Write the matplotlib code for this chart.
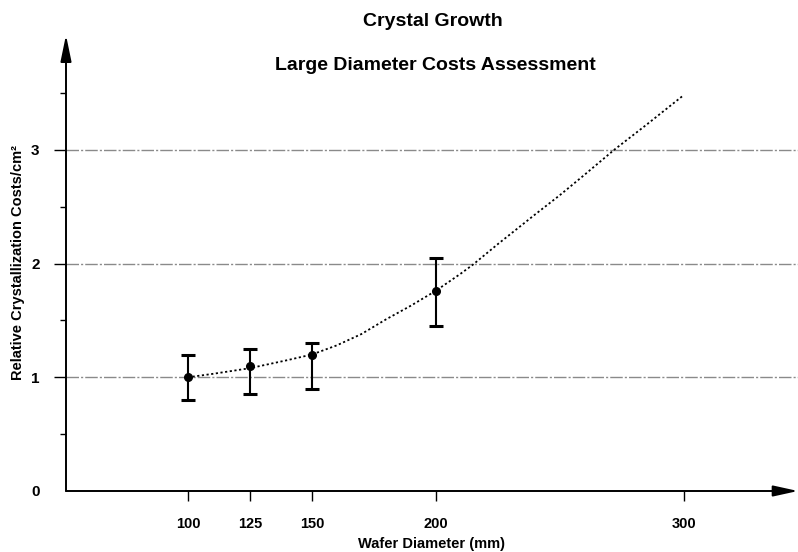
"""
Crystal growth: relative crystallization cost per cm^2 versus wafer diameter.
Writes out.png (798x552).
"""

import matplotlib

matplotlib.use("Agg")
import matplotlib.pyplot as plt
from matplotlib.ticker import FixedLocator

FONT = ["Liberation Sans Narrow", "Liberation Sans", "DejaVu Sans"]

# measured points with error bars
diam_mm = [100, 125, 150, 200]
cost_rel = [1.00, 1.10, 1.20, 1.76]
err_low = [0.80, 0.85, 0.90, 1.45]
err_high = [1.20, 1.25, 1.30, 2.05]

# projected trend
trend_x = [100, 110, 125, 140, 150, 160, 170, 180, 190, 200, 210, 215, 225,
           240, 250, 260, 272, 285, 300]
trend_y = [1.00, 1.03, 1.08, 1.15, 1.20, 1.28, 1.38, 1.51, 1.63, 1.76, 1.91,
           1.99, 2.17, 2.43, 2.60, 2.78, 3.00, 3.22, 3.48]

x_ticks = [100, 125, 150, 200, 300]
y_ticks = [0, 1, 2, 3]
y_minor = [0.5, 1.5, 2.5, 3.5]
grid_levels = [1, 2, 3]


def main() -> None:
    plt.rcParams["font.family"] = FONT
    fig = plt.figure(figsize=(7.98, 5.52), dpi=100)
    ax = fig.add_axes([66 / 798, 1 - 491 / 552, 1 - 66 / 798, (491 - 35) / 552])
    ax.set_xlim(50.8, 346.2)
    ax.set_ylim(0, 4.01)

    for s in ("top", "right", "left", "bottom"):
        ax.spines[s].set_visible(False)

    # axes drawn as arrows
    ax.annotate("", xy=(1.0, 0), xytext=(0, 0), xycoords="axes fraction",
                arrowprops=dict(arrowstyle="-|>,head_length=1.5,head_width=0.33",
                                color="black", lw=1.4, shrinkA=0, shrinkB=0),
                annotation_clip=False)
    ax.annotate("", xy=(0, 1.0), xytext=(0, 0), xycoords="axes fraction",
                arrowprops=dict(arrowstyle="-|>,head_length=1.6,head_width=0.33",
                                color="black", lw=1.4, shrinkA=0, shrinkB=0),
                annotation_clip=False)

    for lvl in grid_levels:
        ax.axhline(lvl, color="#8a8a8a", lw=1.0, ls=(0, (9, 1.5, 1.5, 1.5)), zorder=1)

    ax.plot(trend_x, trend_y, color="black", lw=1.3, ls=(0, (1.2, 1.4)), zorder=2)

    yerr = [[c - lo for c, lo in zip(cost_rel, err_low)],
            [hi - c for c, hi in zip(cost_rel, err_high)]]
    ax.errorbar(diam_mm, cost_rel, yerr=yerr, fmt="o", color="black", ms=5.5,
                elinewidth=1.5, capsize=5, capthick=2.2, zorder=3)

    ax.set_xticks(x_ticks)
    ax.set_xticklabels([str(v) for v in x_ticks])
    ax.tick_params(axis="x", direction="out", length=7, width=1, pad=12,
                   labelsize=10.5)
    ax.set_yticks(y_ticks)
    ax.set_yticklabels([str(v) for v in y_ticks])
    ax.yaxis.set_minor_locator(FixedLocator(y_minor))
    ax.tick_params(axis="y", which="major", direction="out", length=9, width=1,
                   pad=10, labelsize=11)
    ax.tick_params(axis="y", which="minor", direction="out", length=4, width=1)
    ax.get_yticklines()[0].set_visible(False)
    for lbl in ax.get_xticklabels() + ax.get_yticklabels():
        lbl.set_fontweight("bold")

    ax.set_xlabel("Wafer Diameter (mm)", fontsize=10.5, fontweight="bold", labelpad=4)
    fig.text(18 / 798, 1 - 262 / 552, "Relative Crystallization Costs/cm²",
             rotation=90, ha="center", va="center", fontsize=10.5, fontweight="bold")

    fig.text(433 / 798, 1 - 22 / 552, "Crystal Growth", ha="center", va="center",
             fontsize=14, fontweight="bold")
    fig.text(435 / 798, 1 - 65 / 552, "Large Diameter Costs Assessment",
             ha="center", va="center", fontsize=14, fontweight="bold")

    fig.savefig("out.png", dpi=100)


if __name__ == "__main__":
    main()
